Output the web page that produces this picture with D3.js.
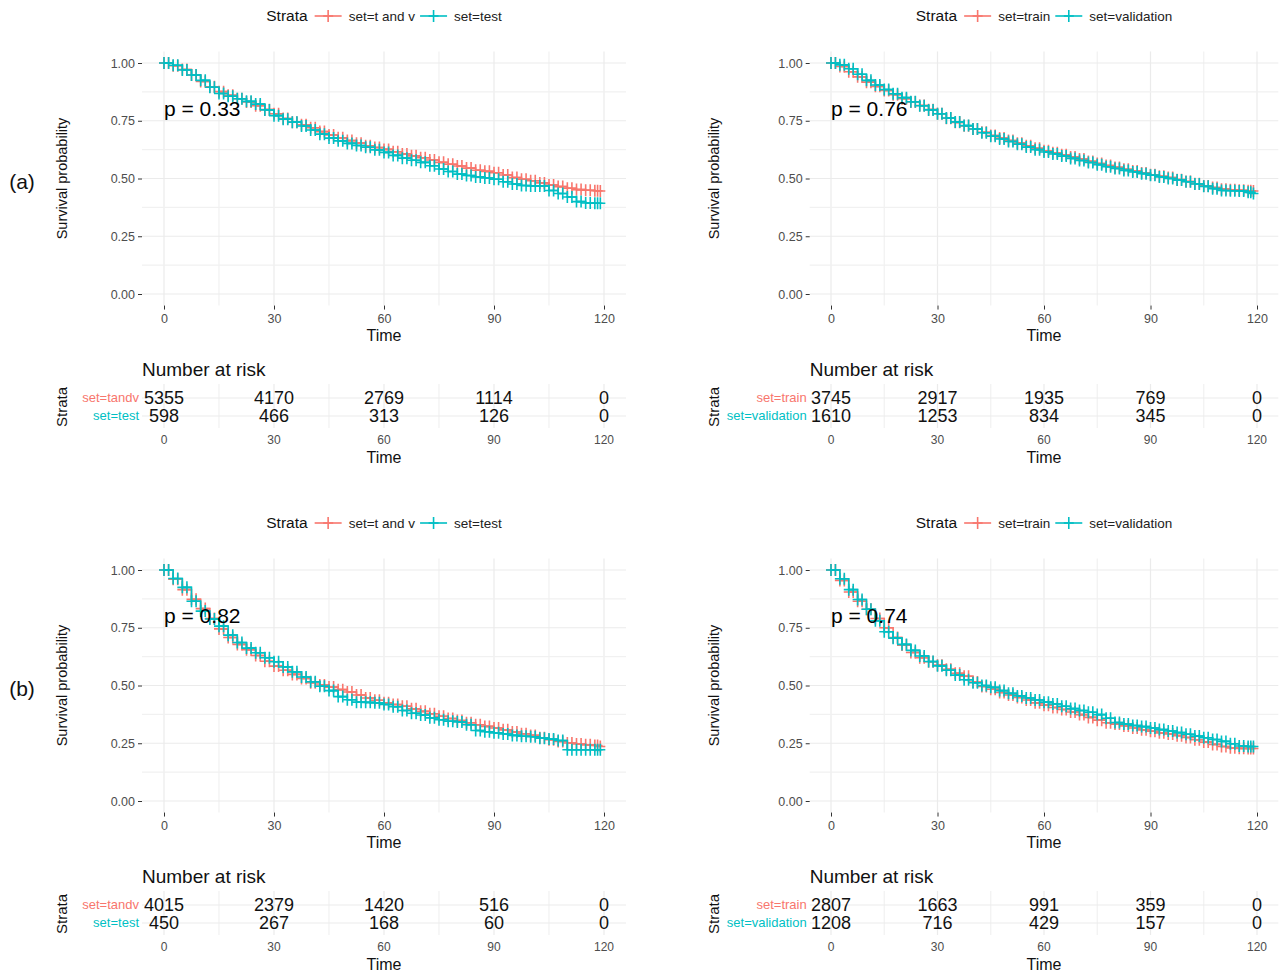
<!DOCTYPE html>
<html>
<head>
<meta charset="utf-8">
<script src="https://cdn.jsdelivr.net/npm/d3@7"></script>
<style>
  body { margin: 0; background: #fff; }
  text { font-family: "Liberation Sans", Arial, sans-serif; }
</style>
</head>
<body>
<svg id="chart" width="1282" height="973"></svg>
<script>
const months = [0,2.5,5,7.5,10,12.5,15,17.5,20,22.5,25,27.5,30,32.5,35,37.5,40,42.5,45,47.5,
  50,52.5,55,57.5,60,62.5,65,67.5,70,72.5,75,77.5,80,82.5,85,87.5,90,92.5,95,97.5,
  100,102.5,105,107.5,110,112.5,115,117.5,119];
const timeTicks = [0, 30, 60, 90, 120];
const survTicks = [0, 0.25, 0.5, 0.75, 1];

// (a) left: t and v vs test
const a1Tandv = [1.000,0.988,0.972,0.948,0.920,0.897,0.876,0.860,0.845,0.831,
  0.815,0.798,0.780,0.760,0.744,0.733,0.720,0.703,0.688,0.676,
  0.664,0.653,0.642,0.634,0.626,0.616,0.606,0.598,0.590,0.580,
  0.570,0.562,0.554,0.545,0.536,0.531,0.525,0.515,0.504,0.497,
  0.490,0.481,0.472,0.465,0.458,0.452,0.449,0.447,0.446];
const a1Test = [1.000,0.990,0.970,0.948,0.925,0.895,0.868,0.856,0.845,0.834,
  0.822,0.797,0.772,0.757,0.744,0.727,0.710,0.692,0.675,0.663,
  0.652,0.643,0.635,0.624,0.613,0.600,0.588,0.579,0.570,0.555,
  0.541,0.530,0.519,0.513,0.507,0.502,0.497,0.486,0.476,0.470,
  0.468,0.468,0.448,0.435,0.420,0.400,0.394,0.393,0.393];
// (a) right: train vs validation
const a2Train = [1.000,0.985,0.962,0.940,0.917,0.899,0.881,0.863,0.845,0.831,
  0.816,0.798,0.780,0.761,0.743,0.728,0.714,0.700,0.686,0.675,
  0.664,0.653,0.642,0.631,0.620,0.611,0.603,0.593,0.584,0.574,
  0.565,0.556,0.548,0.540,0.533,0.524,0.516,0.510,0.504,0.495,
  0.487,0.477,0.468,0.461,0.454,0.451,0.449,0.447,0.446];
const a2Valid = [1.000,0.992,0.975,0.951,0.925,0.905,0.885,0.867,0.850,0.832,
  0.815,0.797,0.780,0.762,0.745,0.729,0.714,0.698,0.683,0.671,
  0.660,0.648,0.636,0.625,0.615,0.606,0.597,0.587,0.578,0.569,
  0.560,0.551,0.543,0.535,0.528,0.521,0.514,0.507,0.500,0.493,
  0.486,0.476,0.466,0.456,0.448,0.447,0.446,0.440,0.435];
// (b) left
const b1Tandv = [1.000,0.960,0.915,0.873,0.833,0.790,0.745,0.708,0.678,0.655,
  0.630,0.605,0.584,0.566,0.548,0.530,0.512,0.502,0.493,0.482,
  0.472,0.459,0.446,0.436,0.425,0.418,0.410,0.399,0.388,0.378,
  0.367,0.357,0.348,0.339,0.330,0.323,0.316,0.308,0.299,0.291,
  0.284,0.274,0.265,0.258,0.251,0.247,0.243,0.240,0.236];
const b1Test = [1.000,0.963,0.925,0.865,0.822,0.788,0.757,0.718,0.686,0.662,
  0.642,0.620,0.603,0.580,0.559,0.537,0.516,0.497,0.478,0.452,
  0.438,0.428,0.427,0.425,0.418,0.408,0.392,0.380,0.372,0.360,
  0.352,0.345,0.342,0.330,0.305,0.300,0.295,0.290,0.284,0.280,
  0.278,0.272,0.268,0.262,0.222,0.222,0.222,0.222,0.222];
// (b) right
const b2Train = [1.000,0.955,0.905,0.865,0.830,0.790,0.750,0.708,0.675,0.643,
  0.620,0.603,0.588,0.570,0.553,0.540,0.515,0.496,0.484,0.470,
  0.459,0.448,0.437,0.425,0.415,0.405,0.396,0.385,0.374,0.362,
  0.350,0.339,0.333,0.325,0.316,0.308,0.302,0.295,0.290,0.283,
  0.275,0.265,0.255,0.245,0.236,0.230,0.228,0.227,0.227];
const b2Valid = [1.000,0.962,0.915,0.872,0.830,0.780,0.733,0.705,0.678,0.652,
  0.628,0.604,0.585,0.566,0.545,0.525,0.512,0.500,0.492,0.478,
  0.466,0.455,0.446,0.437,0.428,0.420,0.410,0.400,0.392,0.384,
  0.374,0.358,0.340,0.333,0.327,0.322,0.316,0.309,0.303,0.296,
  0.289,0.281,0.274,0.266,0.258,0.248,0.238,0.236,0.236];

// numbers at risk at timeTicks
const a1Risk = [[5355, 4170, 2769, 1114, 0], [598, 466, 313, 126, 0]];
const a2Risk = [[3745, 2917, 1935, 769, 0], [1610, 1253, 834, 345, 0]];
const b1Risk = [[4015, 2379, 1420, 516, 0], [450, 267, 168, 60, 0]];
const b2Risk = [[2807, 1663, 991, 359, 0], [1208, 716, 429, 157, 0]];

const colors = ['#F8766D', '#00BFC4'];

const panels = [
  {tag: '(a)', left: 164, right: 604, top: 0, titleX: 62,
   legend: ['set=t and v', 'set=test'], rows: ['set=tandv', 'set=test'],
   series: [a1Tandv, a1Test], risk: a1Risk, p: 'p = 0.33'},
  {tag: null, left: 831, right: 1257, top: 0, titleX: 714,
   legend: ['set=train', 'set=validation'], rows: ['set=train', 'set=validation'],
   series: [a2Train, a2Valid], risk: a2Risk, p: 'p = 0.76'},
  {tag: '(b)', left: 164, right: 604, top: 507, titleX: 62,
   legend: ['set=t and v', 'set=test'], rows: ['set=tandv', 'set=test'],
   series: [b1Tandv, b1Test], risk: b1Risk, p: 'p = 0.82'},
  {tag: null, left: 831, right: 1257, top: 507, titleX: 714,
   legend: ['set=train', 'set=validation'], rows: ['set=train', 'set=validation'],
   series: [b2Train, b2Valid], risk: b2Risk, p: 'p = 0.74'}
];

const svg = d3.select('#chart');
const crossPath = 'M-5,0H5M0,-6V6';

function drawPanel(cfg) {
  const g = svg.append('g');
  const top = cfg.top;
  const x = d3.scaleLinear().domain([0, 120]).range([cfg.left, cfg.right]);
  const y = d3.scaleLinear().domain([0, 1]).range([294 + top, 63 + top]);
  const pl = x(-6), pr = Math.min(x(126), 1282), pt = y(1.05), pb = y(-0.05);

  // grid
  const grid = g.append('g');
  grid.selectAll('.vx').data(d3.range(0, 121, 15)).enter().append('line')
    .attr('x1', d => x(d)).attr('x2', d => x(d)).attr('y1', pt).attr('y2', pb)
    .attr('stroke', d => d % 30 === 0 ? '#ebebeb' : '#f1f1f1').attr('stroke-width', 1.2);
  grid.selectAll('.hy').data(d3.range(0, 1.01, 0.125)).enter().append('line')
    .attr('x1', pl).attr('x2', pr).attr('y1', d => y(d)).attr('y2', d => y(d))
    .attr('stroke', (d, i) => i % 2 === 0 ? '#ebebeb' : '#f1f1f1').attr('stroke-width', 1.2);

  // axes
  const yAxis = g.append('g').attr('transform', `translate(${pl},0)`)
    .call(d3.axisLeft(y).tickValues(survTicks).tickFormat(d3.format('.2f')).tickSize(4).tickPadding(3));
  const xAxis = g.append('g').attr('transform', `translate(0,${pb})`)
    .call(d3.axisBottom(x).tickValues(timeTicks).tickSize(4).tickPadding(5));
  [yAxis, xAxis].forEach(ax => {
    ax.select('.domain').remove();
    ax.selectAll('line').attr('stroke', '#333');
    ax.selectAll('text').attr('fill', '#4d4d4d').style('font-size', '12.5px');
  });

  g.append('text').attr('x', (pl + pr) / 2).attr('y', 341 + top)
    .attr('text-anchor', 'middle').style('font-size', '16px').attr('fill', '#111').text('Time');
  g.append('text').attr('transform', `translate(${cfg.titleX + 5},${y(0.5)}) rotate(-90)`)
    .attr('text-anchor', 'middle').style('font-size', '14.5px').attr('fill', '#111')
    .text('Survival probability');

  // curves with censor marks on the data points and on each step's flat part
  const line = d3.line().x(d => x(d[0])).y(d => y(d[1])).curve(d3.curveStepAfter);
  cfg.series.forEach((vals, i) => {
    const pts = months.map((m, j) => [m, vals[j]]);
    const marks = pts.concat(pts.slice(0, -1).map((d, j) => [(d[0] + pts[j + 1][0]) / 2, d[1]]));
    g.append('path').datum(pts).attr('d', line).attr('fill', 'none')
      .attr('stroke', colors[i]).attr('stroke-width', 1.6);
    g.append('g').selectAll('path').data(marks).enter().append('path')
      .attr('d', crossPath).attr('transform', d => `translate(${x(d[0])},${y(d[1])})`)
      .attr('stroke', colors[i]).attr('stroke-width', 1.6).attr('fill', 'none');
  });

  g.append('text').attr('x', x(0)).attr('y', y(0.8) + 7)
    .style('font-size', '21px').attr('fill', '#000').text(cfg.p);

  // legend
  const lg = g.append('g');
  let cx = 0;
  const title = lg.append('text').attr('x', cx).attr('dy', '0.35em')
    .style('font-size', '15.5px').attr('fill', '#111').text('Strata');
  cx += title.node().getComputedTextLength() + 7;
  cfg.legend.forEach((lab, i) => {
    lg.append('line').attr('x1', cx).attr('x2', cx + 27).attr('y1', 0).attr('y2', 0)
      .attr('stroke', colors[i]).attr('stroke-width', 1.6);
    lg.append('path').attr('d', crossPath).attr('transform', `translate(${cx + 13.5},0)`)
      .attr('stroke', colors[i]).attr('stroke-width', 1.6);
    cx += 34;
    const t = lg.append('text').attr('x', cx).attr('dy', '0.35em')
      .style('font-size', '13.5px').attr('fill', '#222').text(lab);
    cx += t.node().getComputedTextLength() + 5;
  });
  lg.attr('transform', `translate(${(pl + pr) / 2 - (cx - 5) / 2},${16 + top})`);

  if (cfg.tag) {
    g.append('text').attr('x', 22).attr('y', 182 + top).attr('dy', '0.35em')
      .attr('text-anchor', 'middle').style('font-size', '21px').attr('fill', '#111').text(cfg.tag);
  }

  // risk table
  const rowY = [398 + top, 416 + top];
  const tg = g.append('g');
  tg.selectAll('.tv').data(d3.range(0, 121, 15)).enter().append('line')
    .attr('x1', d => x(d)).attr('x2', d => x(d)).attr('y1', 384 + top).attr('y2', 428 + top)
    .attr('stroke', d => d % 30 === 0 ? '#ebebeb' : '#f1f1f1').attr('stroke-width', 1.2);
  tg.selectAll('.th').data(rowY).enter().append('line')
    .attr('x1', pl).attr('x2', pr).attr('y1', d => d).attr('y2', d => d)
    .attr('stroke', '#ebebeb').attr('stroke-width', 1.2);
  tg.append('text').attr('x', pl).attr('y', 369 + top).attr('dy', '0.35em')
    .style('font-size', '19px').attr('fill', '#111').text('Number at risk');
  cfg.rows.forEach((lab, i) => {
    tg.append('text').attr('x', pl - 3).attr('y', rowY[i] - 1).attr('dy', '0.35em')
      .attr('text-anchor', 'end').style('font-size', '13px').attr('fill', colors[i]).text(lab);
    tg.selectAll(null).data(cfg.risk[i]).enter().append('text')
      .attr('x', (d, j) => x(timeTicks[j])).attr('y', rowY[i]).attr('dy', '0.35em')
      .attr('text-anchor', 'middle').style('font-size', '18px').attr('fill', '#111').text(d => d);
  });
  tg.selectAll('.tt').data(timeTicks).enter().append('text')
    .attr('x', d => x(d)).attr('y', 440 + top).attr('dy', '0.35em')
    .attr('text-anchor', 'middle').style('font-size', '12px').attr('fill', '#4d4d4d').text(d => d);
  tg.append('text').attr('x', (pl + pr) / 2).attr('y', 457 + top).attr('dy', '0.35em')
    .attr('text-anchor', 'middle').style('font-size', '16px').attr('fill', '#111').text('Time');
  tg.append('text').attr('transform', `translate(${cfg.titleX},${407 + top}) rotate(-90)`)
    .attr('dy', '0.35em').attr('text-anchor', 'middle').style('font-size', '15px')
    .attr('fill', '#111').text('Strata');
}

panels.forEach(drawPanel);
</script>
</body>
</html>
